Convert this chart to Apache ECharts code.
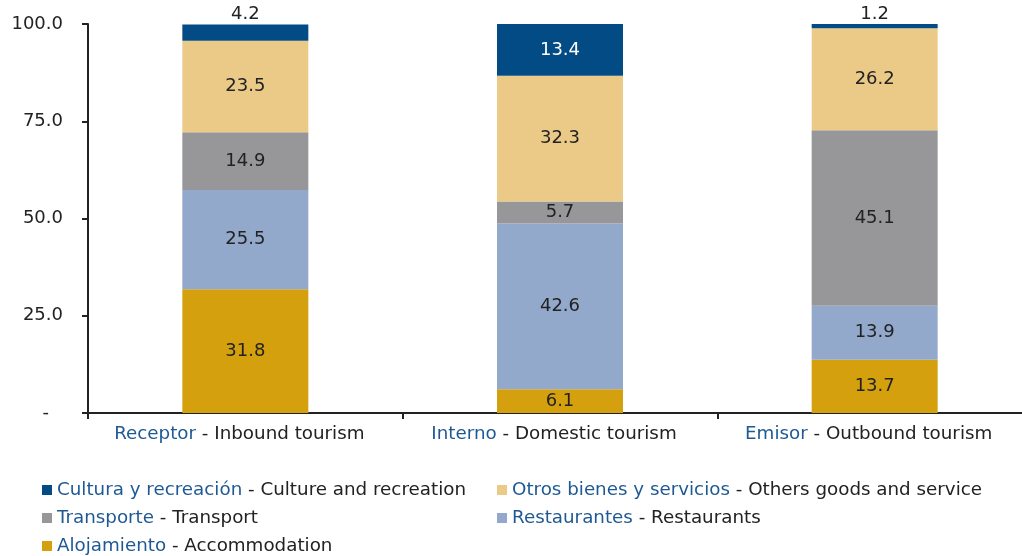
<!DOCTYPE html>
<html>
<head>
<meta charset="utf-8">
<script src="https://cdn.jsdelivr.net/npm/echarts@6/dist/echarts.min.js"></script>
<style>html,body{margin:0;padding:0;background:#fff}#c{width:1022px;height:556px}</style>
</head>
<body>
<div id="c"></div>
<script>
const categoriesEs = ['Receptor', 'Interno', 'Emisor'];
const categoriesEn = ['Inbound tourism', 'Domestic tourism', 'Outbound tourism'];
const alojamiento = [31.8, 6.1, 13.7];
const restaurantes = [25.5, 42.6, 13.9];
const transporte = [14.9, 5.7, 45.1];
const otros = [23.5, 32.3, 26.2];
const cultura = [4.2, 13.4, 1.2];
const yTicks = [0, 25, 50, 75, 100];

const seriesNames = {
  aloj: ['Alojamiento', 'Accommodation'],
  rest: ['Restaurantes', 'Restaurants'],
  trans: ['Transporte', 'Transport'],
  otros: ['Otros bienes y servicios', 'Others goods and service'],
  cult: ['Cultura y recreación', 'Culture and recreation']
};
const colors = {
  aloj: '#D4A00E', rest: '#92A9CB', trans: '#97979A', otros: '#EBCA88', cult: '#024B85'
};
const FONT = 'DejaVu Sans';
const BLUE = '#1F5994';
const DARK = '#222222';

const cats = categoriesEs.map((c, i) => c + '|' + categoriesEn[i]);
const fullName = k => seriesNames[k][0] + ' - ' + seriesNames[k][1];

function mkSeries(key, vals, dataMapper) {
  return {
    name: fullName(key),
    type: 'bar',
    stack: 'total',
    barWidth: 126,
    itemStyle: { color: colors[key] },
    label: { show: true, position: 'inside', color: DARK, fontFamily: FONT, fontSize: 18, formatter: p => p.value.toFixed(1) },
    data: dataMapper ? vals.map(dataMapper) : vals
  };
}

const LFS = 18.3;
const legendRich = {
  es: { color: BLUE, fontFamily: FONT, fontSize: LFS },
  en: { color: DARK, fontFamily: FONT, fontSize: LFS }
};
const legendFmt = name => {
  const i = name.indexOf(' - ');
  return '{es|' + name.slice(0, i) + '}{en| - ' + name.slice(i + 3) + '}';
};
const legendLayout = [
  ['cult', 42, 480],
  ['otros', 497, 480],
  ['trans', 42, 508],
  ['rest', 497, 508],
  ['aloj', 42, 536]
];

const option = {
  animation: false,
  backgroundColor: '#fff',
  grid: { left: 88, top: 24, width: 944, height: 389, containLabel: false, outerBoundsMode: 'none' },
  legend: legendLayout.map(([k, l, t]) => ({
    orient: 'horizontal', left: l, top: t, itemWidth: 10, itemHeight: 10, icon: 'rect', padding: 0,
    data: [fullName(k)],
    formatter: legendFmt, textStyle: { rich: legendRich, fontFamily: FONT, fontSize: LFS, lineHeight: 20 }
  })),
  xAxis: {
    type: 'category',
    data: cats,
    axisLine: { lineStyle: { color: DARK, width: 2 } },
    axisTick: { show: true, length: 6, lineStyle: { color: DARK, width: 2 } },
    axisLabel: {
      margin: 12,
      padding: [0, 12, 0, 0],
      formatter: v => { const p = v.split('|'); return '{es|' + p[0] + '}{en| - ' + p[1] + '}'; },
      rich: {
        es: { color: BLUE, fontFamily: FONT, fontSize: 18.3 },
        en: { color: DARK, fontFamily: FONT, fontSize: 18.3 }
      }
    }
  },
  yAxis: {
    type: 'value',
    min: 0, max: 100, interval: 25,
    splitLine: { show: false },
    axisLine: { show: true, lineStyle: { color: DARK, width: 2 } },
    axisTick: { show: true, inside: false, length: 6, lineStyle: { color: DARK, width: 2 } },
    axisLabel: {
      margin: 25,
      color: DARK, fontFamily: FONT, fontSize: 18,
      formatter: v => (yTicks.indexOf(v) >= 0 ? (v === 0 ? '{d|-}' : v.toFixed(1)) : ''),
      rich: { d: { color: DARK, fontFamily: FONT, fontSize: 18, padding: [0, 14, 0, 0] } }
    }
  },
  series: [
    mkSeries('aloj', alojamiento),
    mkSeries('rest', restaurantes),
    mkSeries('trans', transporte),
    mkSeries('otros', otros),
    mkSeries('cult', cultura, v => (v < 5
      ? { value: v, label: { position: 'top', distance: 1, color: DARK } }
      : { value: v, label: { color: '#ffffff' } }))
  ]
};

const chart = echarts.init(document.getElementById('c'), null, { renderer: 'canvas' });
chart.setOption(option);
</script>
</body>
</html>
